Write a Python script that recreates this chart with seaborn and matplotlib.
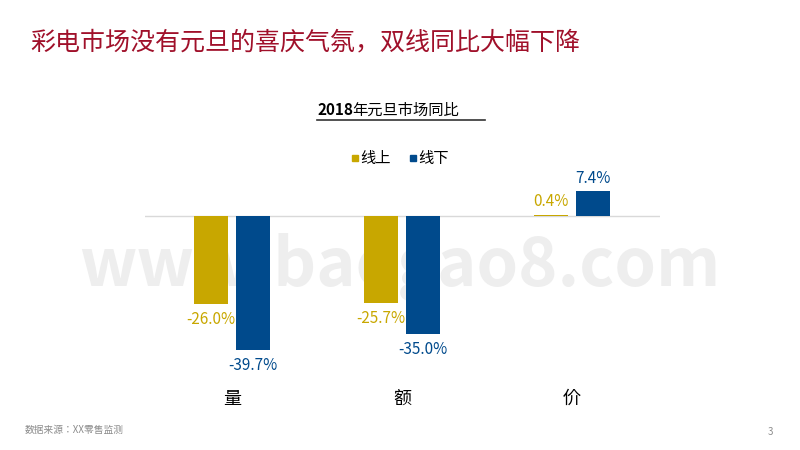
import pandas as pd
import seaborn as sns
import matplotlib.pyplot as plt
from matplotlib import font_manager

names = {f.name for f in font_manager.fontManager.ttflist}
cjk = [n for n in ['Noto Sans CJK SC', 'Noto Sans CJK JP', 'Noto Sans CJK TC', 'Noto Sans CJK KR'] if n in names]
plt.rcParams['font.family'] = cjk + ['DejaVu Sans']

categories = ['量', '额', '价']
series = ['线上', '线下']
online = [-26.0, -25.7, 0.4]
offline = [-39.7, -35.0, 7.4]
colors = {'线上': '#C8A700', '线下': '#004A8C'}

df = pd.DataFrame({
    'cat': categories * 2,
    'series': [series[0]] * 3 + [series[1]] * 3,
    'value': online + offline,
})

fig = plt.figure(figsize=(8, 4.5), dpi=100)
W, H = 800, 450
# axes: x 145..660 px, zero at y=216, 3.37 px per unit, ylim -50..15
top = 216 - 15 * 3.37
bottom = 216 + 50 * 3.37
ax = fig.add_axes([145 / W, 1 - bottom / H, 515 / W, (bottom - top) / H])
ax.patch.set_visible(False)
sns.barplot(data=df, x='cat', y='value', hue='series', palette=colors,
            width=0.5, gap=0.2, ax=ax, legend=False, saturation=1)
ax.set_xlim(-0.512, 2.518)
ax.set_ylim(-50, 15)
ax.axhline(0, color='#d9d9d9', lw=1, zorder=0)
for s in ax.spines.values():
    s.set_visible(False)
ax.set_yticks([])
ax.set_xlabel('')
ax.set_ylabel('')
ax.tick_params(axis='x', length=0, labelsize=13, pad=4)

for cont, ser in zip(ax.containers, series):
    for bar, v in zip(cont, df[df.series == ser].value):
        x = bar.get_x() + bar.get_width() / 2
        if v < 0:
            ax.annotate(f'{v:.1f}%', (x, v), xytext=(0, -5), textcoords='offset points',
                        ha='center', va='top', color=colors[ser], fontsize=11)
        else:
            ax.annotate(f'{v:.1f}%', (x, v), xytext=(0, 3), textcoords='offset points',
                        ha='center', va='bottom', color=colors[ser], fontsize=11)

fig.text(30 / W, 1 - 42 / H, '彩电市场没有元旦的喜庆气氛，双线同比大幅下降',
         color='#A0102A', fontsize=18, va='center')
fig.text(317 / W, 1 - 110 / H, '2018', fontsize=11, fontweight='bold', va='center')
fig.text(352 / W, 1 - 110 / H, '年元旦市场同比', fontsize=11, va='center')
fig.add_artist(plt.Line2D([317 / W, 485 / W], [1 - 120 / H, 1 - 120 / H], color='#333333', lw=1.2))

# legend
for x0, ser in [(352, '线上'), (410, '线下')]:
    fig.patches.append(plt.Rectangle((x0 / W, 1 - 161 / H), 6 / W, 6 / H,
                                     color=colors[ser], transform=fig.transFigure))
    fig.text((x0 + 8) / W, 1 - 158 / H, ser, fontsize=11, va='center')

fig.text(400 / W, 1 - 268 / H, 'www.baogao8.com', fontsize=48, ha='center',
         va='center', color='#eeeeee', zorder=-5, fontweight='bold')
fig.text(25 / W, 1 - 430 / H, '数据来源：XX零售监测', fontsize=7, color='#8c8c8c', va='center')
fig.text(768 / W, 1 - 432 / H, '3', fontsize=7, color='#8c8c8c', va='center')

fig.savefig('out.png', dpi=100)
